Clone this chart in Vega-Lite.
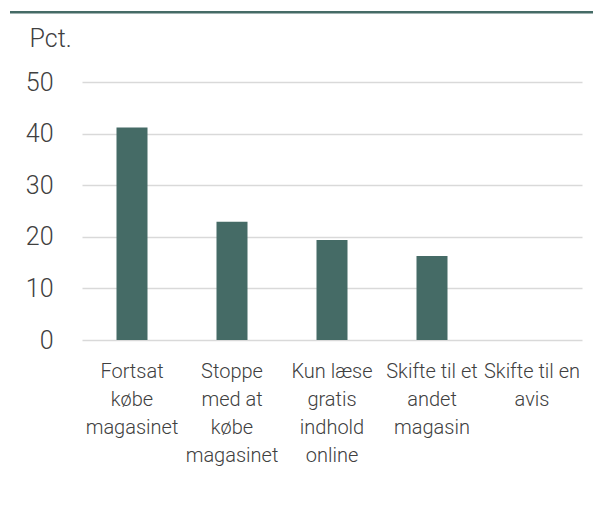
{
  "$schema": "https://vega.github.io/schema/vega-lite/v6.json",
  "width": 500,
  "height": 258,
  "autosize": "none",
  "padding": {"left": 82, "top": 82, "right": 11, "bottom": 183},
  "background": "white",
  "config": {"view": {"stroke": null}, "font": "Roboto"},
  "data": {"values": [
    {"kategori": "Fortsat købe magasinet", "pct": 41.2},
    {"kategori": "Stoppe med at købe magasinet", "pct": 22.9},
    {"kategori": "Kun læse gratis indhold online", "pct": 19.4},
    {"kategori": "Skifte til et andet magasin", "pct": 16.3},
    {"kategori": "Skifte til en avis", "pct": 0}
  ]},
  "layer": [
    {
      "mark": {"type": "bar", "color": "#456b66"},
      "encoding": {
        "x": {
          "field": "kategori", "type": "nominal", "sort": null,
          "scale": {"paddingInner": 0.69, "paddingOuter": 0.345},
          "axis": {
            "title": null, "domain": false, "ticks": false, "labelAngle": 0,
            "labelFont": "Roboto", "labelFontWeight": 300, "labelFontSize": 20,
            "labelColor": "#404040", "labelPadding": 21, "labelLineHeight": 28,
            "labelLimit": 200,
            "labelExpr": "datum.value == 'Fortsat købe magasinet' ? ['Fortsat', 'købe', 'magasinet'] : datum.value == 'Stoppe med at købe magasinet' ? ['Stoppe', 'med at', 'købe', 'magasinet'] : datum.value == 'Kun læse gratis indhold online' ? ['Kun læse', 'gratis', 'indhold', 'online'] : datum.value == 'Skifte til et andet magasin' ? ['Skifte til et', 'andet', 'magasin'] : ['Skifte til en', 'avis']"
          }
        },
        "y": {
          "field": "pct", "type": "quantitative",
          "scale": {"domain": [0, 50]},
          "axis": {
            "values": [0, 10, 20, 30, 40, 50], "domain": false, "ticks": false,
            "gridColor": "#d9d9d9", "gridWidth": 1.5,
            "labelFont": "Roboto", "labelFontWeight": 300, "labelFontSize": 25,
            "labelColor": "#404040", "labelPadding": 29,
            "title": "Pct.", "titleAngle": 0, "titleAlign": "left", "titleBaseline": "alphabetic",
            "titleX": -53, "titleY": -36, "titleFont": "Roboto", "titleFontWeight": 300,
            "titleFontSize": 25, "titleColor": "#404040"
          }
        }
      }
    },
    {
      "data": {"values": [{"y": 63.5}]},
      "mark": {"type": "rule", "color": "#456b66", "strokeWidth": 2.5, "clip": false},
      "encoding": {
        "y": {"field": "y", "type": "quantitative"},
        "x": {"value": -72},
        "x2": {"value": 511}
      }
    }
  ]
}
